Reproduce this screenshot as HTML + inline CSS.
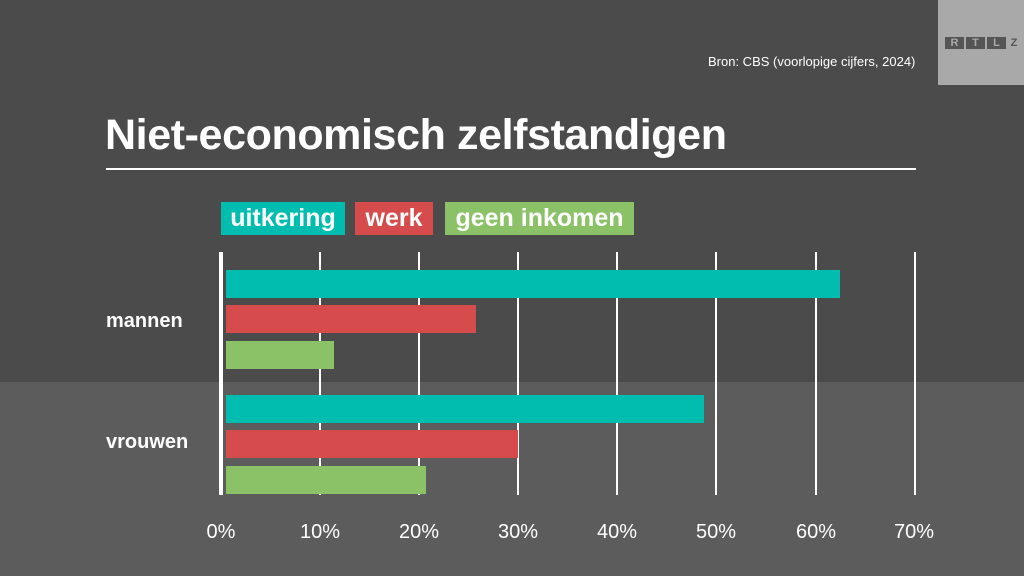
<!DOCTYPE html>
<html><head><style>
body{margin:0;width:1024px;height:576px;overflow:hidden;font-family:"Liberation Sans",sans-serif;}
.a{position:absolute}
.lg{position:absolute;top:202px;height:33px;color:#fff;font-size:25px;font-weight:bold;line-height:32px;text-align:center;white-space:nowrap}
</style></head><body>
<div class="a" style="left:0;top:0;width:1024px;height:382px;background:#4b4b4b"></div>
<div class="a" style="left:0;top:382px;width:1024px;height:194px;background:#5c5c5c"></div>
<div class="a" style="left:938px;top:0;width:86px;height:85px;background:#a9a9a9"></div>
<div class="a" style="left:945px;top:37px;display:flex;gap:2px;font-size:11px;color:#a9a9a9;font-weight:bold">
<span style="background:#555;width:19px;text-align:center;line-height:12px">R</span><span style="background:#555;width:19px;text-align:center;line-height:12px">T</span><span style="background:#555;width:19px;text-align:center;line-height:12px">L</span><span style="color:#555;width:12px;text-align:center;line-height:12px">Z</span></div>
<div class="a" style="left:708px;top:54px;font-size:13px;color:#fff">Bron: CBS (voorlopige cijfers, 2024)</div>
<div class="a" style="left:105px;top:111px;font-size:43px;font-weight:bold;color:#fff;letter-spacing:-0.4px;white-space:nowrap">Niet-economisch zelfstandigen</div>
<div class="a" style="left:106px;top:168px;width:810px;height:2px;background:#fff"></div>
<div class="lg" style="left:221px;width:124px;background:#00bdb0">uitkering</div>
<div class="lg" style="left:355px;width:78px;background:#d64b4b">werk</div>
<div class="lg" style="left:445px;width:189px;background:#8cc267">geen inkomen</div>
<svg class="a" style="left:0;top:0" width="1024" height="576">
<g stroke="#fff" stroke-width="2">
<line x1="320" y1="252" x2="320" y2="495"/><line x1="419" y1="252" x2="419" y2="495"/><line x1="518" y1="252" x2="518" y2="495"/><line x1="617" y1="252" x2="617" y2="495"/><line x1="716" y1="252" x2="716" y2="495"/><line x1="816" y1="252" x2="816" y2="495"/><line x1="915" y1="252" x2="915" y2="495"/>
</g>
<rect x="226" y="270" width="614" height="28" fill="#00bdb0"/>
<rect x="226" y="305" width="250" height="28" fill="#d64b4b"/>
<rect x="226" y="341" width="108" height="28" fill="#8cc267"/>
<rect x="226" y="395" width="478" height="28" fill="#00bdb0"/>
<rect x="226" y="430" width="292" height="28" fill="#d64b4b"/>
<rect x="226" y="466" width="200" height="28" fill="#8cc267"/>
<line x1="221" y1="252" x2="221" y2="495" stroke="#fff" stroke-width="4"/>
<g fill="#fff" font-size="20" text-anchor="middle" font-family="Liberation Sans">
<text x="221" y="538">0%</text><text x="320" y="538">10%</text><text x="419" y="538">20%</text><text x="518" y="538">30%</text><text x="617" y="538">40%</text><text x="716" y="538">50%</text><text x="816" y="538">60%</text><text x="914" y="538">70%</text>
</g>
<g fill="#fff" font-size="20" font-weight="bold" font-family="Liberation Sans">
<text x="106" y="327">mannen</text><text x="106" y="448">vrouwen</text>
</g>
</svg>
</body></html>
